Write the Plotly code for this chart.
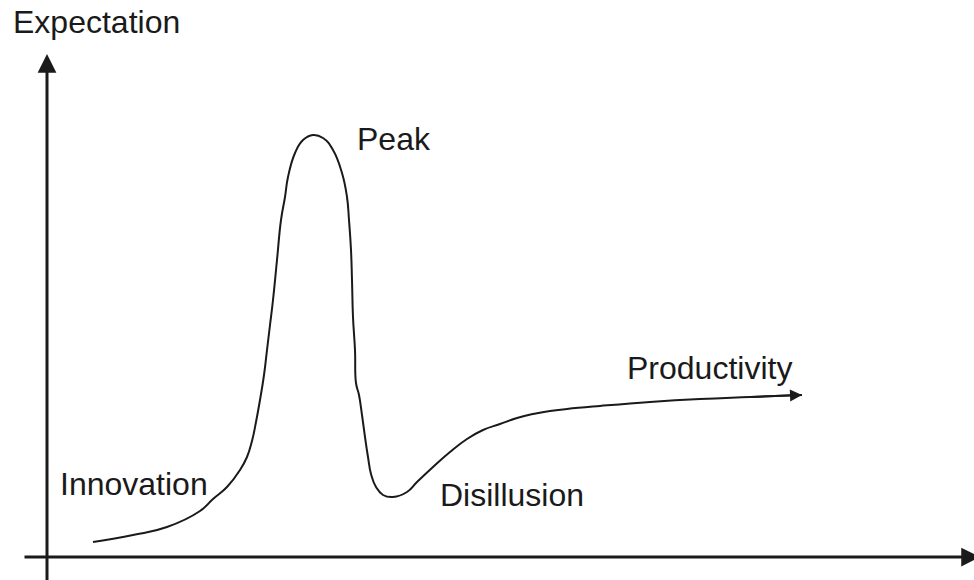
import plotly.graph_objects as go

# hype cycle curve (origin = where the axes cross)
time = [46, 86, 120, 153, 166, 180, 193, 200, 205, 209, 213, 217, 220, 223, 226,
        230, 234, 238, 241, 248, 256, 266, 276, 286, 295, 300, 302, 304, 305, 306,
        308, 309, 312, 315, 318, 321, 324, 329, 336, 346, 360, 370, 386, 403, 420,
        436, 453, 470, 486, 503, 520, 553, 603, 653, 703, 755]
expectation = [15, 22, 30, 46, 58, 70, 87, 100, 116, 135, 157, 182, 207, 232, 257,
               297, 337, 360, 380, 404, 417, 422, 419, 407, 384, 360, 337, 307, 277, 240,
               207, 174, 162, 142, 120, 100, 83, 70, 62, 60, 65, 75, 90, 105, 118,
               127, 133, 139, 143, 146, 148, 151, 155, 158, 160, 162]

phase_labels = ['Peak', 'Productivity', 'Innovation', 'Disillusion']
axis_title = 'Expectation'

x_axis_start, x_axis_end = -24, 933
y_axis_start, y_axis_end = -25, 503

colors = {
    'background': '#ffffff',
    'text': '#1a1a1a',
    'line': '#1a1a1a'
}

fig = go.Figure()

fig.add_trace(go.Scatter(
    x=time,
    y=expectation,
    mode='lines',
    line=dict(color=colors['line'], width=2, shape='spline', smoothing=1.3),
    hoverinfo='skip',
    showlegend=False))

# axes with arrow heads
fig.add_annotation(x=x_axis_end, y=0, ax=x_axis_start, ay=0,
                   xref='x', yref='y', axref='x', ayref='y',
                   text='', showarrow=True, arrowhead=2, arrowsize=1.25,
                   arrowwidth=3, arrowcolor=colors['line'], standoff=0)
fig.add_annotation(x=0, y=y_axis_end, ax=0, ay=y_axis_start,
                   xref='x', yref='y', axref='x', ayref='y',
                   text='', showarrow=True, arrowhead=2, arrowsize=1.25,
                   arrowwidth=3, arrowcolor=colors['line'], standoff=0)

# arrow at the end of the curve
fig.add_annotation(x=time[-1], y=expectation[-1], ax=time[-2], ay=expectation[-2],
                   xref='x', yref='y', axref='x', ayref='y',
                   text='', showarrow=True, arrowhead=2, arrowsize=1.2,
                   arrowwidth=2, arrowcolor=colors['line'], standoff=0)

label_pos = [(308, 418), (578, 189), (11, 73), (391, 62)]
for label, (lx, ly) in zip(phase_labels, label_pos):
    fig.add_annotation(x=lx, y=ly, xref='x', yref='y', text=label,
                       showarrow=False, xanchor='left', yanchor='middle',
                       font=dict(size=32, color=colors['text']))

fig.add_annotation(x=-36, y=535, xref='x', yref='y', text=axis_title,
                   showarrow=False, xanchor='left', yanchor='middle',
                   font=dict(size=32, color=colors['text']))

fig.update_layout(
    width=974,
    height=580,
    margin=dict(l=0, r=0, t=0, b=0),
    plot_bgcolor=colors['background'],
    paper_bgcolor=colors['background'],
    font_family='Liberation Sans',
    font_color=colors['text']
)
fig.update_xaxes(range=[-47, 927], visible=False)
fig.update_yaxes(range=[-23, 557], visible=False)

# drop the browser's default page margin so the chart sits at 0,0
fig.write_html('out.html', config={'displayModeBar': False},
               post_script="document.body.style.margin='0';")
